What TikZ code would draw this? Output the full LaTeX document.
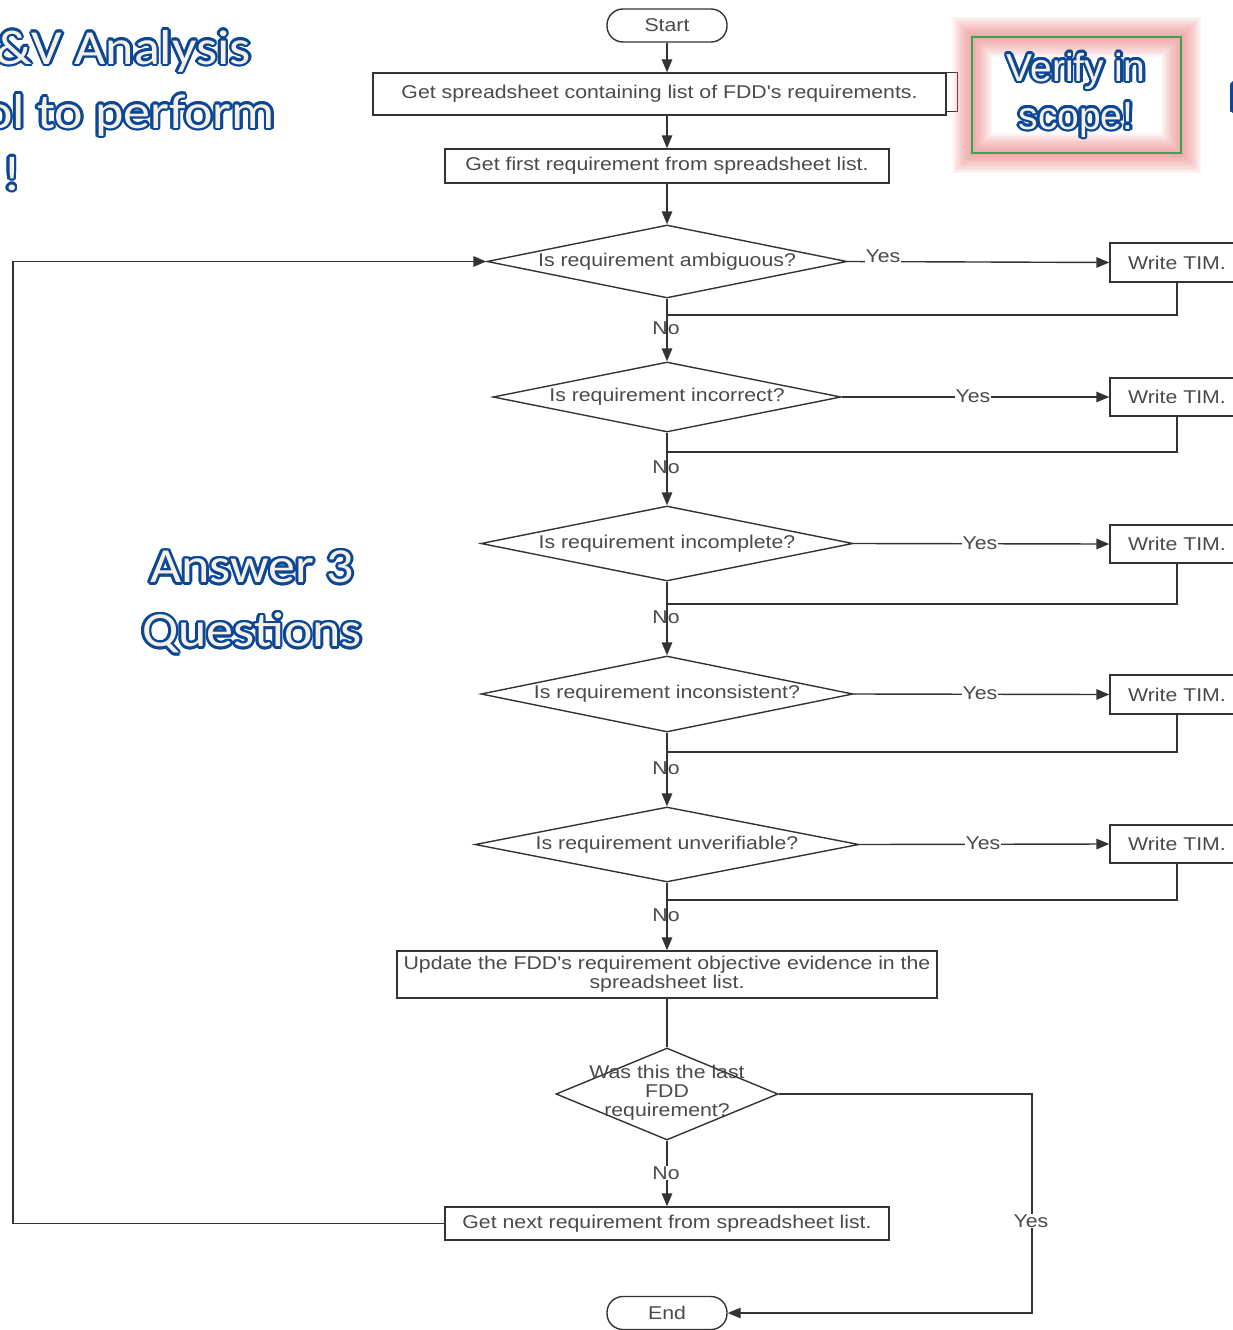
\documentclass[tikz,border=0pt]{standalone}
\usepackage{fontspec}
\usetikzlibrary{shapes.geometric,arrows.meta,calc}
\setmainfont{Liberation Sans}
\newfontfamily\flowfont[FakeStretch=1.15]{Liberation Sans}
\newfontfamily\calfont[FakeStretch=1.1]{Carlito}
\newfontfamily\notefont{Liberation Sans}

\definecolor{ink}{HTML}{333333}
\definecolor{inktext}{HTML}{4A4A4A}
\definecolor{ovblue}{HTML}{0B4796}
\definecolor{ovfill}{HTML}{F6F1E3}
\definecolor{glow}{HTML}{EE8080}
\definecolor{framegreen}{HTML}{2EAA55}

% outlined lettering: blue copies in a ring, cream face on top
\newcommand\olcopy[3]{\rlap{\kern#1\raisebox{#2}{\color{ovblue}#3}}}
\newcommand\olbox[1]{\leavevmode
  \olcopy{2.6pt}{0pt}{#1}\olcopy{-2.6pt}{0pt}{#1}%
  \olcopy{0pt}{2.6pt}{#1}\olcopy{0pt}{-2.6pt}{#1}%
  \olcopy{1.84pt}{1.84pt}{#1}\olcopy{-1.84pt}{1.84pt}{#1}%
  \olcopy{1.84pt}{-1.84pt}{#1}\olcopy{-1.84pt}{-1.84pt}{#1}%
  \olcopy{2.4pt}{1.0pt}{#1}\olcopy{-2.4pt}{1.0pt}{#1}%
  \olcopy{2.4pt}{-1.0pt}{#1}\olcopy{-2.4pt}{-1.0pt}{#1}%
  \olcopy{1.0pt}{2.4pt}{#1}\olcopy{-1.0pt}{2.4pt}{#1}%
  \olcopy{1.0pt}{-2.4pt}{#1}\olcopy{-1.0pt}{-2.4pt}{#1}%
  \olcopy{1.3pt}{0pt}{#1}\olcopy{-1.3pt}{0pt}{#1}%
  \olcopy{0pt}{1.3pt}{#1}\olcopy{0pt}{-1.3pt}{#1}%
  {\color{ovfill}#1}}

\begin{document}
\begin{tikzpicture}[x=1pt,y=-1pt,
  flowtext/.style={font=\flowfont\fontsize{18.5}{19}\selectfont, text=inktext},
  proc/.style={flowtext, draw=ink, line width=1.4pt, fill=white, inner sep=0pt, align=center},
  term/.style={proc, rounded corners=16pt, minimum width=120pt, minimum height=33pt},
  dec/.style={flowtext, diamond, draw=ink, line width=1.4pt, fill=white, inner sep=0pt},
  link/.style={draw=ink, line width=1.4pt, -{Triangle[length=13pt,width=10.5pt]}},
  plain/.style={draw=ink, line width=1.4pt},
  lab/.style={flowtext, inner sep=0.5pt},
  labw/.style={lab, fill=white},
  ovtext/.style={font=\calfont\fontsize{49}{64}\selectfont, inner sep=0pt},
  notetext/.style={font=\notefont\fontsize{39}{48}\selectfont, inner sep=0pt}]

\useasboundingbox[fill=white] (0,0) rectangle (1233,1330);

% ---- main column ----
\node[term] (start) at (667,25.5) {Start};
\node[proc, minimum width=573pt, minimum height=42pt] (get) at (659.5,94) {Get spreadsheet containing list of FDD's requirements.};
\draw[plain] (get.north east) -- ++(11,0) -- ++(0,39) -- ++(-11,0);
\node[proc, minimum width=444pt, minimum height=34pt] (first) at (667,166) {Get first requirement from spreadsheet list.};

\node[dec, aspect=4.93, minimum width=360pt, minimum height=73pt] (d1) at (667,261.5) {Is requirement ambiguous?};
\node[dec, aspect=4.97, minimum width=348pt, minimum height=70pt] (d2) at (667,397) {Is requirement incorrect?};
\node[dec, aspect=4.96, minimum width=372pt, minimum height=75pt] (d3) at (667,543.5) {Is requirement incomplete?};
\node[dec, aspect=4.89, minimum width=372pt, minimum height=76pt] (d4) at (667,694) {Is requirement inconsistent?};
\node[dec, aspect=5.12, minimum width=384pt, minimum height=75pt] (d5) at (667,844.5) {Is requirement unverifiable?};

\node[proc, minimum width=540pt, minimum height=47pt] (upd) at (667,974.5)
  {Update the FDD's requirement objective evidence in the\\spreadsheet list.};
\node[dec, minimum width=222pt, minimum height=92pt] (d6) at (667,1094) {};
\node[flowtext, align=center, inner sep=0pt] (d6t) at (667,1093) {Was this the last\\FDD\\requirement?};
\node[proc, minimum width=444pt, minimum height=33pt] (next) at (667,1223.5) {Get next requirement from spreadsheet list.};
\node[term] (end) at (667,1313) {End};

% ---- TIM boxes ----
\node[proc, minimum width=134pt, minimum height=39pt] (tim1) at (1177,262.5) {Write TIM.};
\node[proc, minimum width=134pt, minimum height=38pt] (tim2) at (1177,397) {Write TIM.};
\node[proc, minimum width=134pt, minimum height=38pt] (tim3) at (1177,544) {Write TIM.};
\node[proc, minimum width=134pt, minimum height=39pt] (tim4) at (1177,694.5) {Write TIM.};
\node[proc, minimum width=134pt, minimum height=38pt] (tim5) at (1177,844) {Write TIM.};

% junctions where the TIM branches rejoin the column
\coordinate (j1) at (667,315);
\coordinate (j2) at (667,452);
\coordinate (j3) at (667,604);
\coordinate (j4) at (667,752);
\coordinate (j5) at (667,900);
\coordinate (yesturn) at (1032,1094);
\coordinate (backx) at (13,1223.5);

% ---- connectors ----
\draw[link] (start) -- (get.north -| start);
\draw[link] (get.south -| start) -- (first);
\draw[link] (first) -- (d1);
\draw[link] (d1) -- (d2);
\draw[link] (d2) -- (d3);
\draw[link] (d3) -- (d4);
\draw[link] (d4) -- (d5);
\draw[link] (d5) -- (upd);
\draw[plain] (upd) -- (d6.north);
\draw[link] (d6.south) -- (next);

\draw[link] (d1.east) -- (tim1.west);
\draw[link] (d2.east) -- (tim2.west);
\draw[link] (d3.east) -- (tim3.west);
\draw[link] (d4.east) -- (tim4.west);
\draw[link] (d5.east) -- (tim5.west);
\draw[plain] (tim1.south) |- (j1);
\draw[plain] (tim2.south) |- (j2);
\draw[plain] (tim3.south) |- (j3);
\draw[plain] (tim4.south) |- (j4);
\draw[plain] (tim5.south) |- (j5);

\draw[link] (d6.east) -- (yesturn) |- (end.east);
\draw[link] (next.west) -- (backx) |- (d1.west);

% ---- branch labels ----
\node[labw] (y1) at (883,256.5) {Yes};
\node[labw] (y2) at (973,396) {Yes};
\node[labw] (y3) at (980,543) {Yes};
\node[labw] (y4) at (980,693) {Yes};
\node[labw] (y5) at (983,843) {Yes};
\node[lab] (n1) at (666,328) {No};
\node[lab] (n2) at (666,467) {No};
\node[lab] (n3) at (666,617) {No};
\node[lab] (n4) at (666,768) {No};
\node[lab] (n5) at (666,915) {No};
\node[labw] (n6) at (666,1173) {No};
\node[labw] (y6) at (1031,1221) {Yes};

% ---- highlighted note: soft pink halo round a green frame ----
\foreach \w in {40,37,...,1}
  \draw[glow, line width=\w pt, opacity=0.07] (972,37) rectangle (1181,153);
\draw[framegreen, line width=1.6pt] (972,37) rectangle (1181,153);
\node[notetext, align=center] (verify) at (1076,95) {\olbox{Verify in}\\\olbox{scope!}};
\node[notetext, anchor=base west] (edgeglyph) at (1230,111) {\olbox{D}};

% ---- side captions ----
\node[ovtext, anchor=base east] (cap1) at (251,64) {\olbox{\&V Analysis}};
\node[ovtext, anchor=base east] (cap2) at (275,128) {\olbox{ol to perform}};
\node[ovtext, anchor=base west] (cap3) at (3,190) {\olbox{!}};
\node[ovtext, align=center] (answer) at (252,602) {\olbox{Answer 3}\\\olbox{Questions}};

\end{tikzpicture}
\end{document}
